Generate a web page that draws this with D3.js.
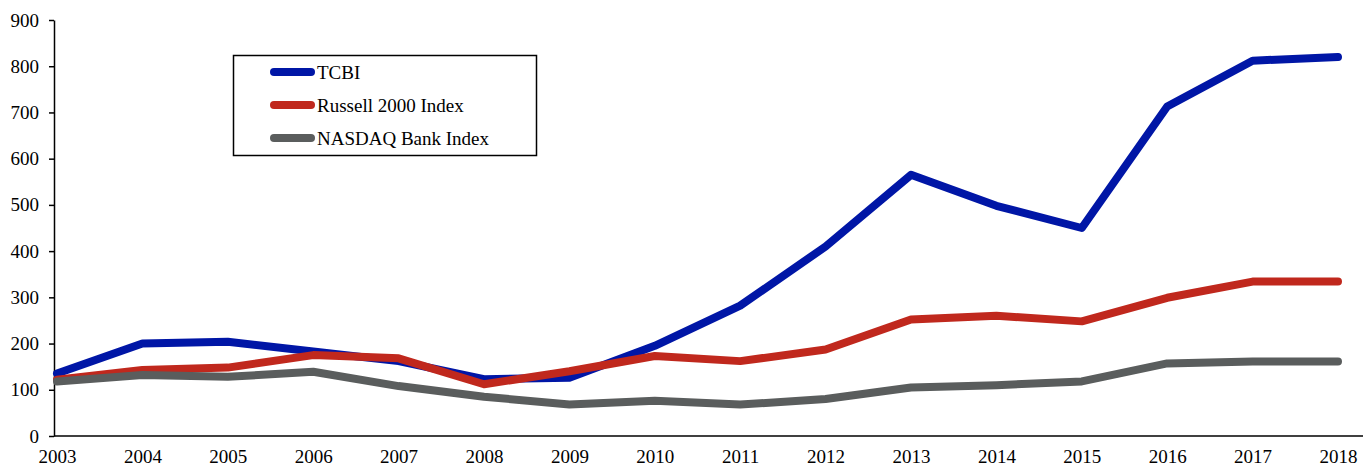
<!DOCTYPE html>
<html>
<head>
<meta charset="utf-8">
<script src="https://cdn.jsdelivr.net/npm/d3@7"></script>
<style>
  body { margin: 0; background: #fff; }
  svg text { font-family: "Liberation Serif", "Times New Roman", serif; }
</style>
</head>
<body>
<svg id="chart" width="1369" height="468"></svg>
<script>
var years = [2003, 2004, 2005, 2006, 2007, 2008, 2009, 2010, 2011, 2012, 2013, 2014, 2015, 2016, 2017, 2018];
var tcbi    = [135, 200, 204, 183, 162, 123, 126, 195, 282, 410, 565, 498, 450, 713, 812, 820];
var russell = [122, 143, 148, 175, 168, 112, 140, 173, 162, 187, 252, 260, 248, 299, 334, 334];
var nasdaq  = [118, 132, 128, 139, 108, 85, 68, 76, 68, 80, 105, 110, 118, 157, 161, 161];
var yTicks = [0, 100, 200, 300, 400, 500, 600, 700, 800, 900];

var series = [
  {name: "TCBI", values: tcbi, color: "#0016a6"},
  {name: "Russell 2000 Index", values: russell, color: "#c0281d"},
  {name: "NASDAQ Bank Index", values: nasdaq, color: "#5a5d5d"}
];

var svg = d3.select("#chart");
var x = d3.scaleLinear().domain([2003, 2018]).range([57, 1338]);
var y = d3.scaleLinear().domain([0, 900]).range([436, 20]);

// y axis
var yAxis = svg.append("g")
  .attr("transform", "translate(54,0)")
  .call(d3.axisLeft(y).tickValues(yTicks).tickSize(5).tickPadding(10).tickSizeOuter(0));
yAxis.select(".domain").attr("stroke", "#000").attr("stroke-width", 1.5);
yAxis.selectAll(".tick line").attr("stroke", "#000").attr("stroke-width", 1.5);
yAxis.selectAll("text").attr("font-size", 19).attr("fill", "#000")
  .attr("font-family", "Liberation Serif, serif");

// x axis labels
var xAxis = svg.append("g")
  .attr("transform", "translate(0,436)")
  .call(d3.axisBottom(x).tickValues(years).tickFormat(d3.format("d")).tickSize(0).tickPadding(14));
xAxis.select(".domain").remove();
xAxis.selectAll("text").attr("font-size", 19).attr("fill", "#000")
  .attr("font-family", "Liberation Serif, serif");

var line = d3.line()
  .x(function (d, i) { return x(years[i]); })
  .y(function (d) { return y(d); });

svg.selectAll(".series")
  .data(series)
  .enter().append("path")
  .attr("class", "series")
  .attr("d", function (d) { return line(d.values); })
  .attr("fill", "none")
  .attr("stroke", function (d) { return d.color; })
  .attr("stroke-width", 8)
  .attr("stroke-linejoin", "round")
  .attr("stroke-linecap", "round");

// x axis line drawn over the data
svg.append("line")
  .attr("x1", 54).attr("x2", 1363)
  .attr("y1", 436).attr("y2", 436)
  .attr("stroke", "#000").attr("stroke-width", 1.5);

// legend
var legend = svg.append("g");
legend.append("rect")
  .attr("x", 233.5).attr("y", 55.5)
  .attr("width", 303).attr("height", 100)
  .attr("fill", "#fff").attr("stroke", "#000").attr("stroke-width", 1.5);
var items = legend.selectAll(".item")
  .data(series)
  .enter().append("g")
  .attr("class", "item")
  .attr("transform", function (d, i) { return "translate(0," + (72 + i * 33) + ")"; });
items.append("line")
  .attr("x1", 274).attr("x2", 311)
  .attr("stroke", function (d) { return d.color; })
  .attr("stroke-width", 8)
  .attr("stroke-linecap", "round");
items.append("text")
  .attr("x", 317).attr("y", 6.5)
  .attr("font-size", 19)
  .attr("fill", "#000")
  .text(function (d) { return d.name; });
</script>
</body>
</html>
